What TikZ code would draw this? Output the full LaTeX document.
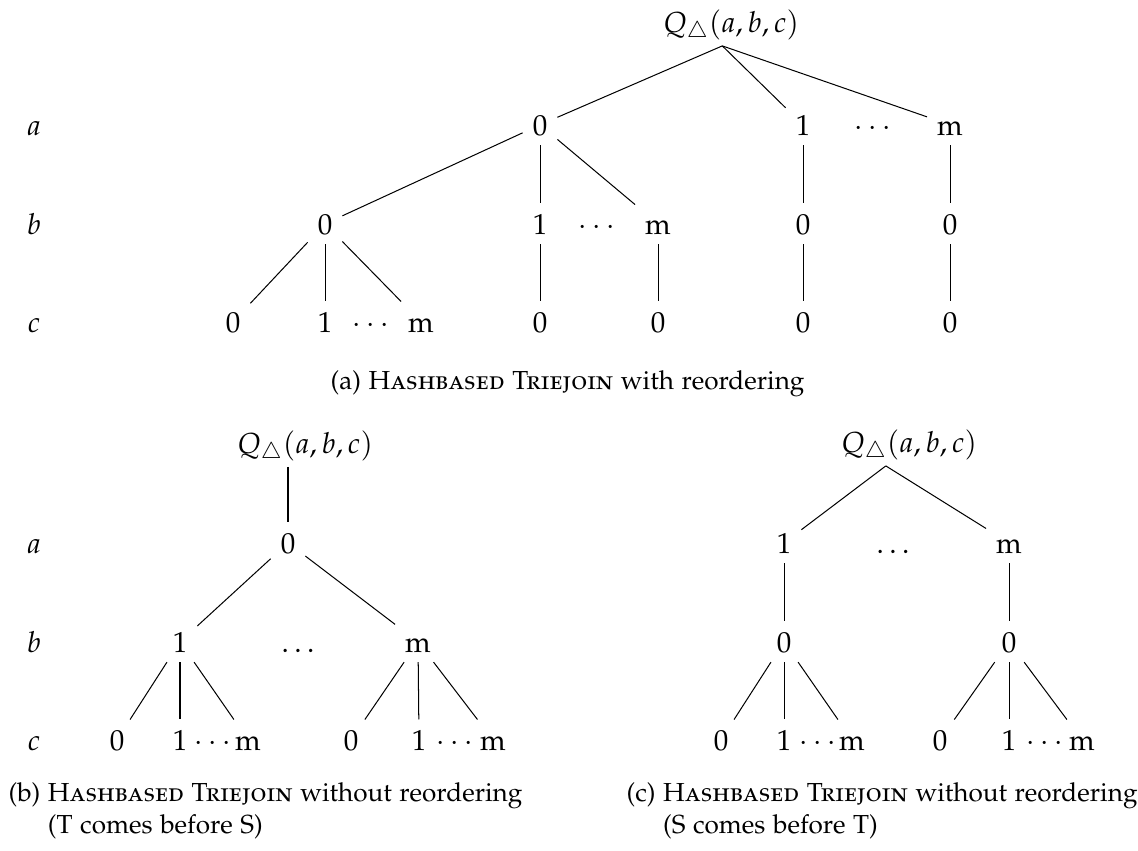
\documentclass[tikz,border=0pt]{standalone}
\usepackage[T1]{fontenc}
\usepackage[sc]{mathpazo}

\begin{document}
\begin{tikzpicture}[x = 0.345pt, y = -0.345pt]
    % one unit = one pixel of the picture, y grows downwards
    \tikzstyle{val}    = [anchor = base, text height = 1.5ex, text depth = 0pt, inner sep = 3.3pt]
    \tikzstyle{attr}   = [val]
    \tikzstyle{query}  = [anchor = base, inner sep = 1pt]
    \tikzstyle{link}   = [line width = 0.35pt]
    \tikzstyle{subcap} = [anchor = base west, align = left, inner sep = 0pt, font = \small]

    \useasboundingbox (0,0) rectangle (1138,850);

    % (a) with reordering
    \node[query] (qa) at (731,32) {$Q_\triangle(a,b,c)$};
    \node[attr] (la) at (34,135) {$a$};
    \node[attr] (lb) at (34,234) {$b$};
    \node[attr] (lc) at (34,332) {$c$};

    \node[val] (A0) at (540,135) {0};
    \node[val] (A1) at (803,135) {1};
    \node[val] (Ad) at (873,135) {$\cdots$};
    \node[val] (Am) at (950,135) {m};

    \node[val] (A00) at (325,234) {0};
    \node[val] (A01) at (540,234) {1};
    \node[val] (A0d) at (597,234) {$\cdots$};
    \node[val] (A0m) at (658,234) {m};
    \node[val] (A10) at (803,234) {0};
    \node[val] (Am0) at (950,234) {0};

    \node[val] (A000) at (233,332) {0};
    \node[val] (A001) at (325,332) {1};
    \node[val] (A00d) at (371,332) {$\cdots$};
    \node[val] (A00m) at (421,332) {m};
    \node[val] (A010) at (540,332) {0};
    \node[val] (A0m0) at (658,332) {0};
    \node[val] (A100) at (803,332) {0};
    \node[val] (Am00) at (950,332) {0};

    \draw[link] ([xshift = -3pt]qa.south) -- (A0);
    \draw[link] ([xshift = -3pt]qa.south) -- (A1);
    \draw[link] ([xshift = -3pt]qa.south) -- (Am);
    \draw[link] (A0) -- (A00);
    \draw[link] (A0) -- (A01);
    \draw[link] (A0) -- (A0m);
    \draw[link] (A1) -- (A10);
    \draw[link] (Am) -- (Am0);
    \draw[link] (A00) -- (A000);
    \draw[link] (A00) -- (A001);
    \draw[link] (A00) -- (A00m);
    \draw[link] (A01) -- (A010);
    \draw[link] (A0m) -- (A0m0);
    \draw[link] (A10) -- (A100);
    \draw[link] (Am0) -- (Am00);

    \node[subcap] (capa) at (330,389) {(a) \textsc{Hashbased Triejoin} with reordering};

    % (b) without reordering, T before S
    \node[query] (qb) at (305,453) {$Q_\triangle(a,b,c)$};
    \node[attr] (lba) at (34,553) {$a$};
    \node[attr] (lbb) at (34,652) {$b$};
    \node[attr] (lbc) at (34,750) {$c$};

    \node[val] (B0) at (288,553) {0};

    \node[val] (B01) at (180,652) {1};
    \node[val] (B0d) at (298,652) {$\ldots$};
    \node[val] (B0m) at (418,652) {m};

    \node[val] (B010) at (117,750) {0};
    \node[val] (B011) at (180,750) {1};
    \node[val] (B01d) at (213,750) {$\cdots$};
    \node[val] (B01m) at (248,750) {m};
    \node[val] (B0m0) at (351,750) {0};
    \node[val] (B0m1) at (419,750) {1};
    \node[val] (B0md) at (455,750) {$\cdots$};
    \node[val] (B0mm) at (493,750) {m};

    \draw[link] (qb.south -| B0) -- (B0);
    \draw[link] (B0) -- (B01);
    \draw[link] (B0) -- (B0m);
    \draw[link] (B01) -- (B010);
    \draw[link] (B01) -- (B011);
    \draw[link] (B01) -- (B01m);
    \draw[link] (B0m) -- (B0m0);
    \draw[link] (B0m) -- (B0m1);
    \draw[link] (B0m) -- (B0mm);

    % base of a two-line caption is its last line
    \node[subcap] (capb) at (8,833) {(b) \textsc{Hashbased Triejoin} without reordering\\\hphantom{(b)~}(T comes before S)};

    % (c) without reordering, S before T
    \node[query] (qc) at (909,452) {$Q_\triangle(a,b,c)$};

    \node[val] (C1) at (784,553) {1};
    \node[val] (Cd) at (893,553) {$\ldots$};
    \node[val] (Cm) at (1009,553) {m};

    \node[val] (C10) at (784,652) {0};
    \node[val] (Cm0) at (1009,652) {0};

    \node[val] (C100) at (721,750) {0};
    \node[val] (C101) at (784,750) {1};
    \node[val] (C10d) at (818,750) {$\cdots$};
    \node[val] (C10m) at (852,750) {m};
    \node[val] (Cm00) at (940,750) {0};
    \node[val] (Cm01) at (1009,750) {1};
    \node[val] (Cm0d) at (1045,750) {$\cdots$};
    \node[val] (Cm0m) at (1082,750) {m};

    \draw[link] ([xshift = -8pt]qc.south) -- (C1);
    \draw[link] ([xshift = -8pt]qc.south) -- (Cm);
    \draw[link] (C1) -- (C10);
    \draw[link] (Cm) -- (Cm0);
    \draw[link] (C10) -- (C100);
    \draw[link] (C10) -- (C101);
    \draw[link] (C10) -- (C10m);
    \draw[link] (Cm0) -- (Cm00);
    \draw[link] (Cm0) -- (Cm01);
    \draw[link] (Cm0) -- (Cm0m);

    \node[subcap] (capc) at (626,833) {(c) \textsc{Hashbased Triejoin} without reordering\\\hphantom{(c)~}(S comes before T)};
\end{tikzpicture}
\end{document}
